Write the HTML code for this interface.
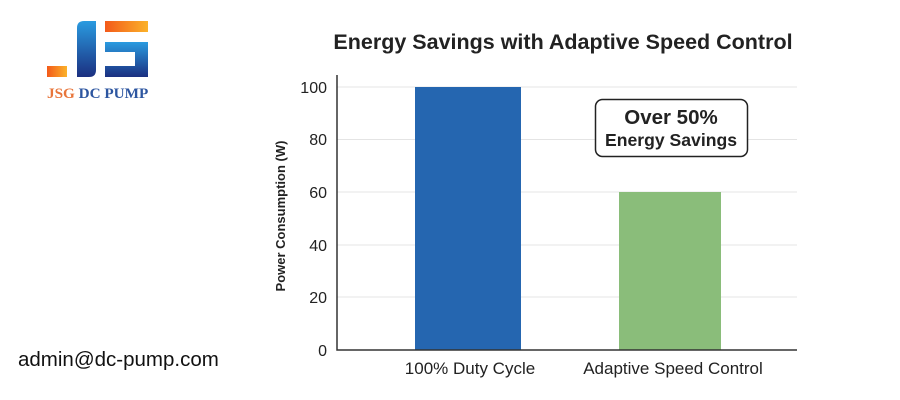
<!DOCTYPE html>
<html><head><meta charset="utf-8"><style>
body{margin:0;width:900px;height:400px;background:#fff;overflow:hidden;font-family:"Liberation Sans",sans-serif}
</style></head><body>
<svg width="900" height="400" xmlns="http://www.w3.org/2000/svg" style="position:absolute;left:0;top:0">
<defs>
<linearGradient id="b" x1="0" y1="0" x2="0" y2="1"><stop offset="0" stop-color="#2a9be0"/><stop offset="1" stop-color="#1b2f80"/></linearGradient>
<linearGradient id="o" x1="0" y1="0" x2="1" y2="0"><stop offset="0" stop-color="#f35a1a"/><stop offset="1" stop-color="#fbb22a"/></linearGradient>
</defs>
<rect x="47" y="66" width="20" height="11" fill="url(#o)"/>
<path d="M84 21 H96 V70 Q96 77 89 77 H77 V28 Q77 21 84 21 Z" fill="url(#b)"/>
<rect x="105" y="21" width="43" height="11" fill="url(#o)"/>
<path d="M105 42 H148 V77 H105 V66 H135 V52 H105 Z" fill="url(#b)"/>
<text x="47" y="98" font-family="Liberation Serif,serif" font-weight="bold" font-size="15.2" fill="#e8753a">JSG <tspan fill="#2d56a0">DC PUMP</tspan></text>
<text x="563" y="49" text-anchor="middle" font-weight="bold" font-size="21.5" fill="#222">Energy Savings with Adaptive Speed Control</text>
<g stroke="#e4e4e4" stroke-width="1">
<line x1="337" y1="87" x2="797" y2="87"/><line x1="337" y1="139.5" x2="797" y2="139.5"/><line x1="337" y1="192" x2="797" y2="192"/><line x1="337" y1="245" x2="797" y2="245"/><line x1="337" y1="297" x2="797" y2="297"/>
</g>
<rect x="415" y="87" width="106" height="263" fill="#2566b0"/>
<rect x="619" y="192" width="102" height="158" fill="#8abd7a"/>
<path d="M337 75 V350 H797" fill="none" stroke="#333" stroke-width="1.5"/>
<g font-size="16" fill="#222" text-anchor="end">
<text x="327" y="93">100</text><text x="327" y="145">80</text><text x="327" y="198">60</text><text x="327" y="251">40</text><text x="327" y="303">20</text><text x="327" y="356">0</text>
</g>
<text transform="translate(285,216) rotate(-90)" text-anchor="middle" font-size="13" font-weight="bold" fill="#222">Power Consumption (W)</text>
<g font-size="17" fill="#222" text-anchor="middle">
<text x="470" y="374">100% Duty Cycle</text><text x="673" y="374">Adaptive Speed Control</text>
</g>
<rect x="595.5" y="99.5" width="152" height="57" rx="7" fill="#fff" stroke="#222" stroke-width="1.5"/>
<text x="671" y="124" text-anchor="middle" font-size="20.5" font-weight="bold" fill="#222">Over 50%</text>
<text x="671" y="146" text-anchor="middle" font-size="17.6" font-weight="bold" fill="#222">Energy Savings</text>
<text x="18" y="366" font-size="20.5" fill="#111">admin@dc-pump.com</text>
</svg>
</body></html>
